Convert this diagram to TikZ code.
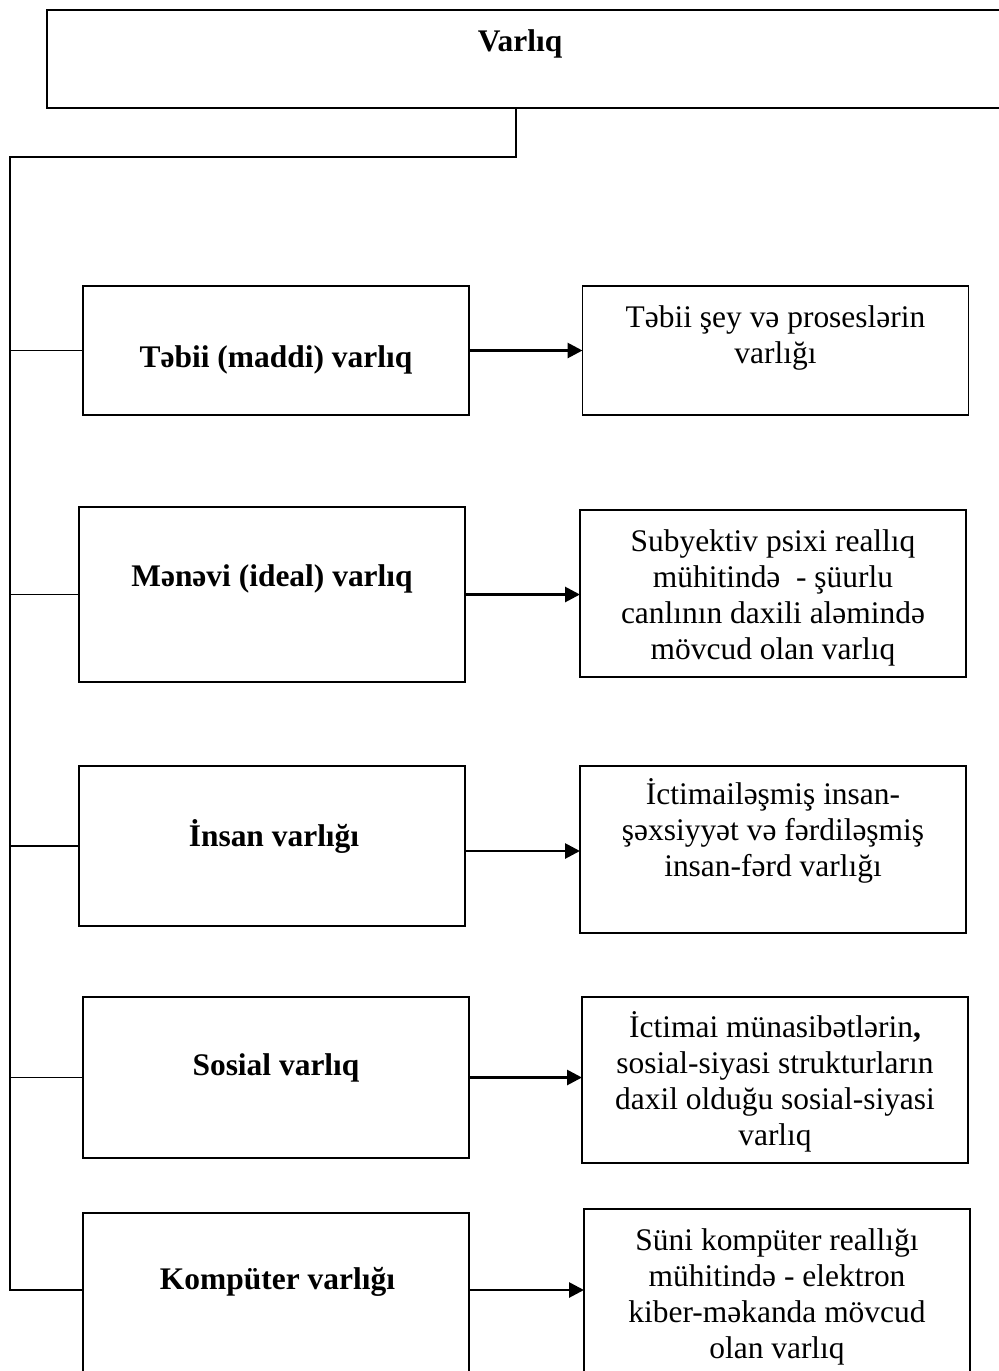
\documentclass[tikz,border=0pt]{standalone}
\usepackage{fontspec}
\setmainfont{Liberation Serif}
\usetikzlibrary{arrows.meta, positioning, calc}

\begin{document}
\begin{tikzpicture}[>={Triangle[length=0.3cm, width=0.3cm]},
  box/.style={draw, line width=1.1pt, inner sep=0pt, outer sep=0pt, minimum width=7.72cm},
  ttl/.style={font=\fontsize{17.9}{20.5}\selectfont\bfseries, align=center},
  txt/.style={font=\fontsize{17.9}{20.5}\selectfont, align=center},
  link/.style={line width=1pt},
  arr/.style={->, line width=1.6pt}]
  \useasboundingbox (0,0) rectangle (19.96,-27.42);

  % Varlıq
  \node[box, minimum width=19.36cm, minimum height=1.96cm] (varliq) at (10.62,-1.18) {};
  \node[ttl] (varliqT) at (10.4,-0.88) {Varlıq};

  % Sol qutular
  \node[box, minimum height=2.58cm] (tabii) at (5.52,-7.01) {};
  \node[box, minimum height=3.5cm] (menevi) at (5.44,-11.89) {};
  \node[box, minimum height=3.2cm] (insan) at (5.44,-16.92) {};
  \node[box, minimum height=3.22cm] (sosial) at (5.52,-21.55) {};
  \node[box, minimum height=3.74cm] (komp) at (5.52,-26.13) {};

  \node[ttl] (tabiiT) at (5.52,-7.2) {Təbii (maddi) varlıq};
  \node[ttl] (meneviT) at (5.44,-11.58) {Mənəvi (ideal) varlıq};
  \node[ttl] (insanT) at (5.48,-16.72) {İnsan varlığı};
  \node[ttl] (sosialT) at (5.52,-21.36) {Sosial varlıq};
  \node[ttl] (kompT) at (5.55,-25.64) {Kompüter varlığı};

  % Sağ qutular
  \node[box, minimum height=2.58cm] (tabiiR) at (15.51,-7.01) {};
  \node[box, minimum height=3.34cm] (meneviR) at (15.46,-11.87) {};
  \node[box, minimum height=3.34cm] (insanR) at (15.46,-16.99) {};
  \node[box, minimum height=3.32cm] (sosialR) at (15.5,-21.6) {};
  \node[box, minimum height=3.82cm] (kompR) at (15.54,-26.09) {};

  \node[txt] (tabiiRT) at (15.51,-6.76) {Təbii şey və proseslərin\\varlığı};
  \node[txt] (meneviRT) at (15.46,-11.95) {Subyektiv psixi reallıq\\mühitində~ - şüurlu\\canlının daxili aləmində\\mövcud olan varlıq};
  \node[txt] (insanRT) at (15.46,-16.62) {İctimailəşmiş insan-\\şəxsiyyət və fərdiləşmiş\\insan-fərd varlığı};
  \node[txt] (sosialRT) at (15.5,-21.64) {İctimai münasibətlərin\textbf{,}\\sosial-siyasi strukturların\\daxil olduğu sosial-siyasi\\varlıq};
  \node[txt] (kompRT) at (15.54,-25.93) {Süni kompüter reallığı\\mühitində - elektron\\kiber-məkanda mövcud\\olan varlıq};

  % Gövdə xətti
  \coordinate (trunk) at (0.2,-3.14);
  \coordinate (k5) at ([yshift=0.33cm]komp.west);
  \draw[link] ([xshift=-0.3cm]varliq.south) |- (trunk) -- (trunk |- k5) -- (k5);
  \draw[link] (trunk |- tabii.west) -- (tabii.west);
  \draw[link] (trunk |- menevi.west) -- (menevi.west);
  \draw[link] (trunk |- insan.west) -- (insan.west);
  \draw[link] (trunk |- sosial.west) -- (sosial.west);

  % Oxlar
  \draw[arr] (tabii.east) -- (tabii.east -| tabiiR.west);
  \draw[arr] (menevi.east) -- (menevi.east -| meneviR.west);
  \draw[arr] ([yshift=-0.1cm]insan.east) -- ([yshift=-0.1cm]insan.east -| insanR.west);
  \draw[arr] (sosial.east) -- (sosial.east -| sosialR.west);
  \draw[arr] (k5 -| komp.east) -- (k5 -| kompR.west);
\end{tikzpicture}
\end{document}
